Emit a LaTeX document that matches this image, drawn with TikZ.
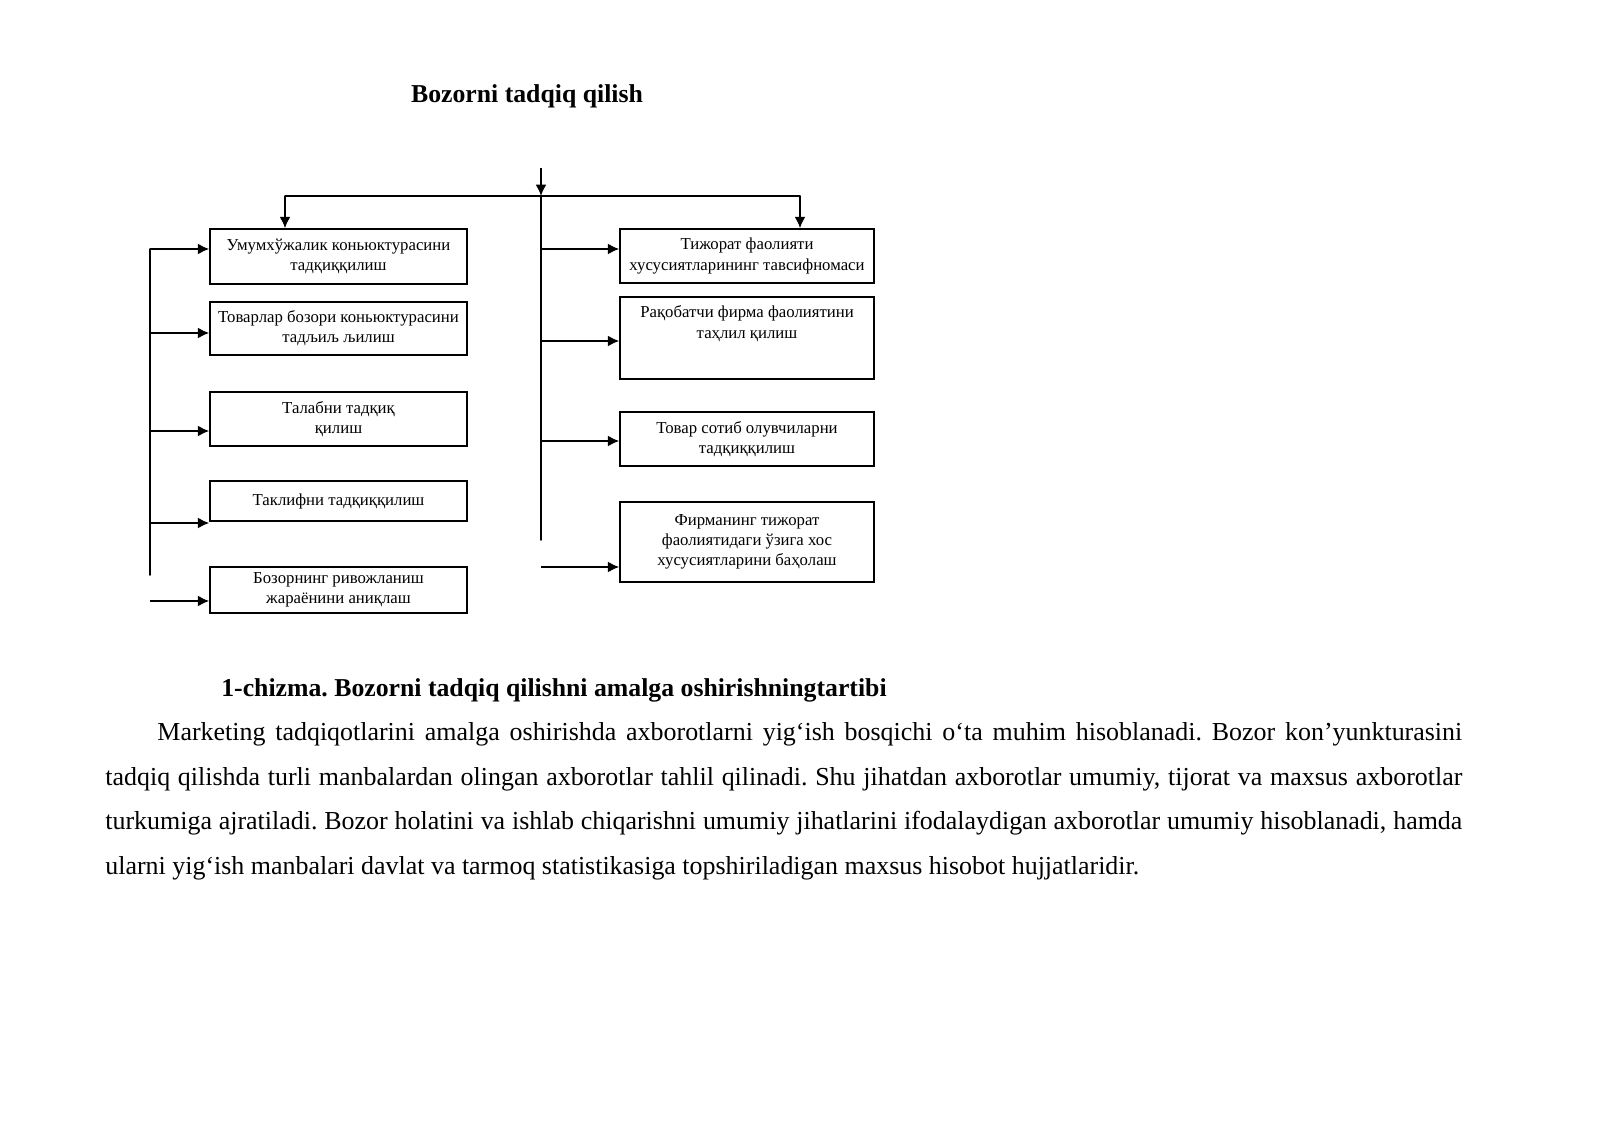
\documentclass[tikz,border=0pt]{standalone}
\usepackage{fontspec}
\setmainfont{Liberation Serif}
\usepackage{tkz-euclide}
\usetikzlibrary{arrows.meta,positioning}
\newcommand\pxl{0.185625mm}
\tikzset{
  blok/.style={draw, line width=0.8pt, align=center, inner sep=0pt,
    font=\fontsize{8.85}{10.6}\selectfont},
  strl/.style={line width=1pt, -{Latex[length=6pt,width=5.8pt]}},
  liniya/.style={line width=1pt}
}

\begin{document}
\begin{tikzpicture}[x=0.185625mm, y=-0.185625mm]
    \useasboundingbox (0,0) rectangle (1600,1131);
    \node[font=\fontsize{13.6}{16}\selectfont\bfseries] (Z) at (527,96) {Bozorni tadqiq qilish};
    % CHAP
    \node[blok, minimum width=257*\pxl, minimum height=55*\pxl] (L1) at (338.5,256.5) {Умумхўжалик коньюктурасини\\тадқиққилиш};
    \node[blok, minimum width=257*\pxl, minimum height=53*\pxl] (L2) at (338.5,328.5) {Товарлар бозори коньюктурасини\\тадљиљ љилиш};
    \node[blok, minimum width=257*\pxl, minimum height=54*\pxl] (L3) at (338.5,419) {Талабни тадқиқ\\қилиш};
    \node[blok, minimum width=257*\pxl, minimum height=40*\pxl] (L4) at (338.5,501) {Таклифни тадқиққилиш};
    \node[blok, minimum width=257*\pxl, minimum height=46*\pxl] (L5) at (338.5,590) {Бозорнинг ривожланиш\\жараёнини аниқлаш};
    % ONG
    \node[blok, minimum width=254*\pxl, minimum height=54*\pxl] (R1) at (747,256) {Тижорат фаолияти\\хусусиятларининг тавсифномаси};
    \node[blok, minimum width=254*\pxl, minimum height=82*\pxl] (R2) at (747,338) {};
    \node[blok, draw=none, below=9*\pxl of R2.north] (R2t) {Рақобатчи фирма фаолиятини\\таҳлил қилиш};
    \node[blok, minimum width=254*\pxl, minimum height=54*\pxl] (R3) at (747,439) {Товар сотиб олувчиларни\\тадқиққилиш};
    \node[blok, minimum width=254*\pxl, minimum height=80*\pxl] (R4) at (747,542) {Фирманинг тижорат\\фаолиятидаги ўзига хос\\хусусиятларини баҳолаш};
    \tkzDefPoints{541/168/T,285/196/HL,800/196/HR,541/196/HC,541/540/CB,
      150/249/A1,150/333/A2,150/431/A3,150/523/A4,150/575/LB,150/601/A5,
      541/249/B1,541/341/B2,541/441/B3,541/567/B4}
    \tkzDrawSegments[liniya](HL,HR HC,CB A1,LB)
    \draw[strl] (T) -- (HC);
    \draw[strl] (HL) -- (HL |- L1.north);
    \draw[strl] (HR) -- (HR |- R1.north);
    \foreach \i in {1,...,5}
      \draw[strl] (A\i) -- (A\i -| L\i.west);
    \foreach \i in {1,...,4}
      \draw[strl] (B\i) -- (B\i -| R\i.west);
    \node[font=\fontsize{13.6}{16}\selectfont\bfseries] (P) at (554,690) {\frenchspacing 1-chizma. Bozorni tadqiq qilishni amalga oshirishningtartibi};
    \node[anchor=north west, text width=716.6pt, align=justify, inner sep=0pt,
      font=\fontsize{13.7}{23.6}\selectfont] (M) at (105,722) {\frenchspacing\hyphenpenalty=10000\hspace*{27.5pt}Marketing tadqiqotlarini amalga oshirishda axborotlarni yig‘ish bosqichi o‘ta muhim hisoblanadi. Bozor kon’yunkturasini\linebreak tadqiq qilishda turli manbalardan olingan axborotlar tahlil qilinadi. Shu jihatdan axborotlar umumiy, tijorat va maxsus axborotlar\linebreak turkumiga ajratiladi. Bozor holatini va ishlab chiqarishni umumiy jihatlarini ifodalaydigan axborotlar umumiy hisoblanadi, hamda\linebreak ularni yig‘ish manbalari davlat va tarmoq statistikasiga topshiriladigan maxsus hisobot hujjatlaridir.};
\end{tikzpicture}
\end{document}
